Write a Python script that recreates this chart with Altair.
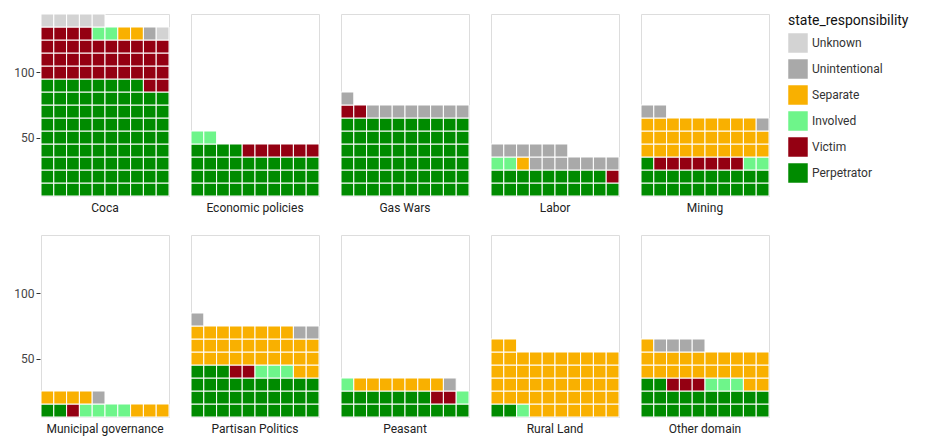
import altair as alt
import pandas as pd

domains = ["Coca", "Economic policies", "Gas Wars", "Labor", "Mining",
           "Municipal governance", "Partisan Politics", "Peasant", "Rural Land", "Other domain"]
levels = ["Perpetrator", "Victim", "Involved", "Separate", "Unintentional", "Unknown"]
colors = ["#008b00", "#940012", "#6ef58a", "#f9b000", "#a9a9a9", "#d3d3d3"]

# counts per domain, in the order of `levels`
perpetrator   = [88, 34, 60, 19, 21, 2, 33, 17, 2, 22]
victim        = [36, 6, 2, 1, 7, 1, 2, 2, 0, 3]
involved      = [2, 2, 0, 2, 2, 4, 3, 2, 1, 3]
separate      = [2, 0, 0, 1, 29, 7, 30, 7, 49, 23]
unintentional = [1, 0, 9, 13, 3, 1, 3, 1, 0, 4]
unknown       = [6, 0, 0, 0, 0, 0, 0, 0, 0, 0]

counts = [perpetrator, victim, involved, separate, unintentional, unknown]

recs = []
for d_i, dom in enumerate(domains):
    k = 0
    for l_i, lev in enumerate(levels):
        for _ in range(counts[l_i][d_i]):
            row, col = divmod(k, 10)
            recs.append({"domain": dom, "state_responsibility": lev,
                         "x": col, "x2": col + 1,
                         "y": 10 * row + 5, "y2": 10 * row + 15})
            k += 1
df = pd.DataFrame(recs)

legend_order = levels[::-1]

chart = (
    alt.Chart(df)
      .mark_rect(stroke="white", strokeWidth=1)
      .encode(
          x=alt.X("x:Q", axis=None, scale=alt.Scale(domain=[0, 10], nice=False)),
          x2="x2",
          y=alt.Y("y:Q", title=None, scale=alt.Scale(domain=[5, 145], nice=False, zero=False),
                  axis=alt.Axis(values=[50, 100], grid=False, domain=False, tickSize=4,
                                labelFontSize=12, labelColor="#444", tickColor="#333")),
          y2="y2",
          color=alt.Color("state_responsibility:N",
                          scale=alt.Scale(domain=legend_order, range=colors[::-1]),
                          legend=alt.Legend(title="state_responsibility", symbolType="square",
                                            symbolSize=380, symbolStrokeWidth=0,
                                            titleFontSize=14, titleFontWeight="normal",
                                            labelFontSize=12, labelColor="#333",
                                            titleColor="#111", rowPadding=6)),
          facet=alt.Facet("domain:N", columns=5, sort=domains, title=None,
                          header=alt.Header(labelOrient="bottom", labelFontSize=12,
                                            labelColor="#222", labelPadding=6)),
      )
      .properties(width=128, height=182)
      .configure_facet(spacing=24)
      .configure_view(stroke=None)
      .configure(font="Roboto")
)

chart.save("out.html", embed_options={"renderer": "svg", "actions": False})
